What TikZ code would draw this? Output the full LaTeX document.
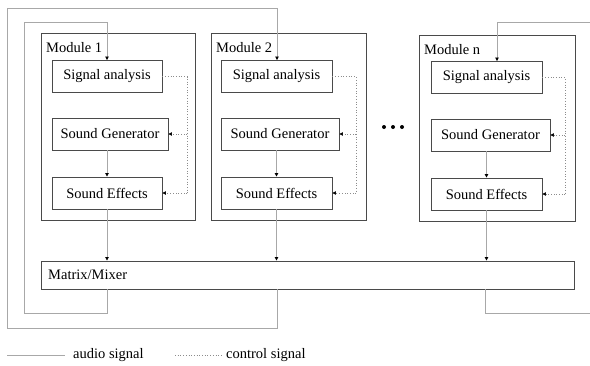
\documentclass[tikz,border=0pt]{standalone}
\usepackage{fontspec}
\setmainfont{Liberation Serif}
\usetikzlibrary{arrows.meta}
\definecolor{boxc}{HTML}{4A4A4A}
\definecolor{audioc}{HTML}{A8A8A8}
\definecolor{ctrlc}{HTML}{8C8C8C}
\begin{document}
\begin{tikzpicture}[x=1pt,y=-1pt,
  font=\fontsize{14.5pt}{16pt}\selectfont,
  blk/.style={draw=boxc, line width=0.9pt, inner sep=0pt, minimum height=32pt},
  modbox/.style={draw=boxc, line width=0.9pt},
  tip/.style={-{Triangle[length=3.5pt,width=3.5pt,color=black]}},
  audio/.style={draw=audioc, line width=0.8pt},
  ctrl/.style={draw=ctrlc, line width=0.7pt, dotted},
  lbl/.style={inner sep=0pt}]
\useasboundingbox (0,0) rectangle (590,365);

% module frames
\draw[modbox] (41,33) rectangle (195,220);
\draw[modbox] (211,33) rectangle (366,220);
\draw[modbox] (419,35) rectangle (575,221);
\node[lbl, anchor=base west] (m1) at (46,52) {Module 1};
\node[lbl, anchor=base west] (m2) at (216,52) {Module 2};
\node[lbl, anchor=base west] (mn) at (424,54) {Module n};

% module 1
\node[blk, minimum width=110pt] (sa1) at (107,76.5) {Signal analysis};
\node[blk, minimum width=116pt] (sg1) at (110,134) {Sound Generator};
\node[blk, minimum width=110pt] (se1) at (107,193) {Sound Effects};
% module 2
\node[blk, minimum width=111pt] (sa2) at (276.5,76.5) {Signal analysis};
\node[blk, minimum width=118pt] (sg2) at (280,134) {Sound Generator};
\node[blk, minimum width=111pt] (se2) at (276.5,193) {Sound Effects};
% module n
\node[blk, minimum width=111pt] (san) at (486.5,77.5) {Signal analysis};
\node[blk, minimum width=119pt] (sgn) at (490.5,135) {Sound Generator};
\node[blk, minimum width=111pt] (sen) at (486.5,194) {Sound Effects};

% mixer
\node[blk, minimum width=533pt, minimum height=28pt] (mix) at (307.5,275) {};
\node[lbl, anchor=west] (mixl) at (48,275) {Matrix/Mixer};

% dots
\fill (384,127) circle (2pt);
\fill (393,127) circle (2pt);
\fill (402,127) circle (2pt);

% internal audio arrows
\draw[audio, tip] (sg1.south -| se1) -- (se1.north);
\draw[audio, tip] (sg2.south -| se2) -- (se2.north);
\draw[audio, tip] (sgn.south -| sen) -- (sen.north);
\draw[audio, tip] (se1.south) -- (se1.south |- mix.north);
\draw[audio, tip] (se2.south) -- (se2.south |- mix.north);
\draw[audio, tip] (sen.south) -- (sen.south |- mix.north);

% control (dotted)
\coordinate (c1a) at (187,76.5);
\coordinate (c1b) at (187,193);
\draw[ctrl] (sa1.east) -- (c1a) -- (c1b);
\draw[ctrl, tip] (c1b) -- (se1.east);
\draw[ctrl, tip] (c1a |- sg1) -- (sg1.east);
\coordinate (c2a) at (356,76.5);
\coordinate (c2b) at (356,193);
\draw[ctrl] (sa2.east) -- (c2a) -- (c2b);
\draw[ctrl, tip] (c2b) -- (se2.east);
\draw[ctrl, tip] (c2a |- sg2) -- (sg2.east);
\coordinate (cna) at (565,77.5);
\coordinate (cnb) at (565,194);
\draw[ctrl] (san.east) -- (cna) -- (cnb);
\draw[ctrl, tip] (cnb) -- (sen.east);
\draw[ctrl, tip] (cna |- sgn) -- (sgn.east);

% feedback loops
\coordinate (l1a) at (107,313);
\coordinate (l1b) at (24,313);
\coordinate (l1c) at (24,22);
\coordinate (l1d) at (107,22);
\draw[audio, tip] (mix.south -| l1a) -- (l1a) -- (l1b) -- (l1c) -- (l1d) -- (sa1.north);
\coordinate (l2a) at (277,328);
\coordinate (l2b) at (7,328);
\coordinate (l2c) at (7,8);
\coordinate (l2d) at (277,8);
\draw[audio, tip] (mix.south -| l2a) -- (l2a) -- (l2b) -- (l2c) -- (l2d) -- (l2d |- sa2.north);
\coordinate (lna) at (485,313);
\coordinate (lnb) at (590,313);
\draw[audio] (mix.south -| lna) -- (lna) -- (lnb);
\coordinate (lnc) at (590,22);
\coordinate (lnd) at (497,22);
\draw[audio, tip] (lnc) -- (lnd) -- (lnd |- san.north);

% legend
\coordinate (la1) at (7,355);
\coordinate (la2) at (65,355);
\draw[audio] (la1) -- (la2);
\node[lbl, anchor=west] (lat) at (73,355) {audio signal};
\coordinate (lc1) at (175,355);
\coordinate (lc2) at (223,355);
\draw[ctrl] (lc1) -- (lc2);
\node[lbl, anchor=west] (lct) at (226,355) {control signal};
\end{tikzpicture}
\end{document}
